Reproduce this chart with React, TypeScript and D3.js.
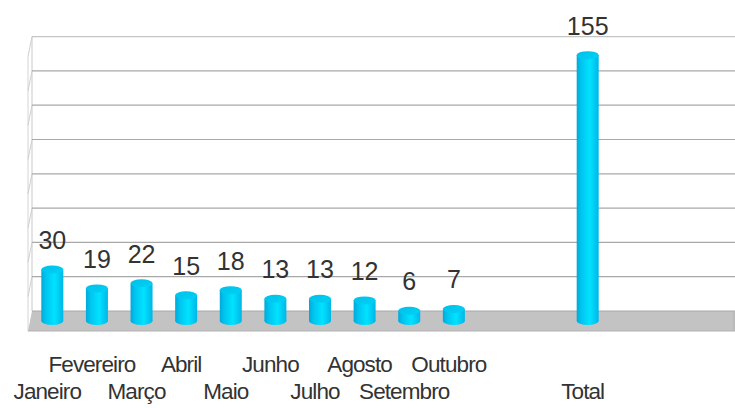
import * as d3 from "d3";

const months = [
  "Janeiro", "Fevereiro", "Março", "Abril", "Maio", "Junho",
  "Julho", "Agosto", "Setembro", "Outubro", "", "", "Total",
];
const counts: (number | null)[] = [30, 19, 22, 15, 18, 13, 13, 12, 6, 7, null, null, 155];
const yTicks = [0, 20, 40, 60, 80, 100, 120, 140, 160];

const W = 735;
const H = 408;
const WALL_X = 32;
const PLOT_R = 735;
// depth of the floor (front edge relative to back wall)
const DX = -4;
const DY = 20;
const RX = 11;
const RY = 4;

export default function App() {
  const idx = months.map((_, i) => String(i));
  const x = d3.scaleBand().domain(idx).range([30, 610]);
  const y = d3.scaleLinear().domain([0, 160]).range([311, 36.6]);
  const half = x.bandwidth() / 2;
  const base = y(0) + DY / 2;

  return (
    <svg
      width={W}
      height={H}
      style={{ position: "absolute", left: 0, top: 0, background: "#fff" }}
      fontFamily="'Liberation Sans', Arial, sans-serif"
    >
      <defs>
        <linearGradient id="cyl" x1="0" x2="1" y1="0" y2="0">
          <stop offset="0" stopColor="#00a9da" />
          <stop offset="0.2" stopColor="#00c4ef" />
          <stop offset="0.6" stopColor="#00e3ff" />
          <stop offset="1" stopColor="#00b6e6" />
        </linearGradient>
        <linearGradient id="cylTop" x1="0" x2="1" y1="0" y2="1">
          <stop offset="0" stopColor="#00bfe9" />
          <stop offset="1" stopColor="#00d2f6" />
        </linearGradient>
      </defs>

      {/* side wall */}
      <line x1={WALL_X} x2={WALL_X} y1={y(160)} y2={y(0)} stroke="#c8c8c8" />
      <line x1={WALL_X + DX} x2={WALL_X + DX} y1={y(160) + DY} y2={y(0) + DY} stroke="#d4d4d4" />

      {/* gridlines */}
      {yTicks.filter((t) => t > 0).map((t) => (
        <g key={t}>
          <line x1={WALL_X + DX} y1={y(t) + DY} x2={WALL_X} y2={y(t)} stroke="#cfcfcf" />
          <line
            x1={WALL_X}
            x2={PLOT_R}
            y1={y(t)}
            y2={y(t)}
            stroke={t === 160 ? "#c4c4c4" : "#a8a8a8"}
            strokeWidth={1.2}
          />
        </g>
      ))}

      {/* floor */}
      <polygon
        points={[
          [WALL_X, y(0)],
          [PLOT_R, y(0)],
          [PLOT_R, y(0) + DY],
          [WALL_X + DX, y(0) + DY],
        ].map((p) => p.join(",")).join(" ")}
        fill="#c3c3c3"
      />
      <line x1={WALL_X} x2={PLOT_R} y1={y(0)} y2={y(0)} stroke="#a9a9a9" strokeWidth={1.2} />
      <line x1={WALL_X + DX} x2={PLOT_R} y1={y(0) + DY} y2={y(0) + DY} stroke="#b2b2b2" />
      <line x1={PLOT_R - 1} x2={PLOT_R - 1} y1={y(0)} y2={y(0) + DY} stroke="#b2b2b2" />

      {/* cylinders */}
      {counts.map((v, i) => {
        if (v == null) return null;
        const cx = (x(String(i)) as number) + half;
        const top = y(v) + DY / 2;
        return (
          <g key={i}>
            <ellipse cx={cx} cy={base} rx={RX} ry={RY} fill="url(#cyl)" />
            <rect x={cx - RX} y={top} width={RX * 2} height={base - top} fill="url(#cyl)" />
            <ellipse cx={cx} cy={top} rx={RX} ry={RY} fill="url(#cylTop)" />
            <text x={cx} y={top - 20.5} textAnchor="middle" fontSize={25} fill="#333">
              {v}
            </text>
          </g>
        );
      })}

      {/* category labels, staggered */}
      {months.map((m, i) => (
        <text
          key={i}
          x={(x(String(i)) as number) + half - 5}
          y={i % 2 === 0 ? 399 : 372}
          textAnchor="middle"
          fontSize={22.5}
          letterSpacing={-0.9}
          fill="#333"
        >
          {m}
        </text>
      ))}
    </svg>
  );
}
